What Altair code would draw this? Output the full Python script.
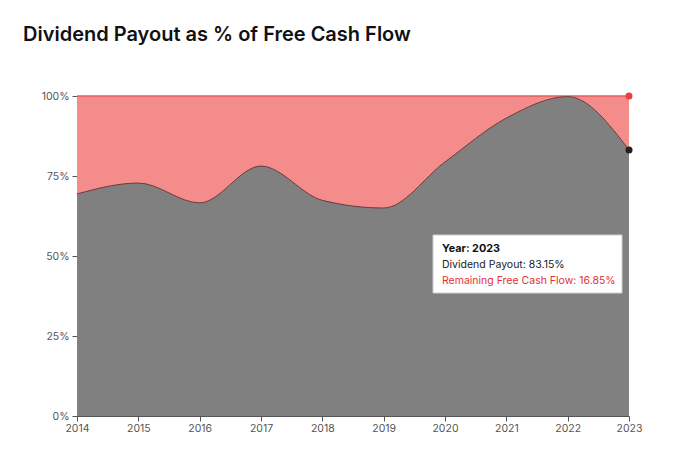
import altair as alt
import pandas as pd

years = [2014, 2015, 2016, 2017, 2018, 2019, 2020, 2021, 2022, 2023]
payout = [69.4, 72.8, 66.6, 78.1, 67.4, 65.0, 79.4, 93.1, 99.8, 83.15]
total = [100] * len(years)

df = pd.DataFrame({"year": years, "payout": payout, "total": total})
last = df[df["year"] == 2023]

x_enc = alt.X("year:Q", scale=alt.Scale(domain=[2014, 2023], nice=False, zero=False),
              axis=alt.Axis(values=years, format="d", title=None, labelPadding=2, labelFlush=False))
y_scale = alt.Scale(domain=[0, 100], nice=False)
y_axis = alt.Axis(values=[0, 25, 50, 75, 100], labelExpr="datum.value + '%'", title=None, labelPadding=3)

base = alt.Chart(df)

red_area = base.mark_area(color="#f48c8c", interpolate="monotone").encode(
    x=x_enc, y=alt.Y("total:Q", scale=y_scale, axis=y_axis), y2=alt.value(320)
)
top_line = base.mark_line(color="#e06060", strokeWidth=1.5).encode(
    x="year:Q", y="total:Q"
)
gray_area = base.mark_area(color="#808080", interpolate="monotone").encode(
    x="year:Q", y="payout:Q"
)
payout_line = base.mark_line(color="#6e3a3a", strokeWidth=1, interpolate="monotone").encode(
    x="year:Q", y="payout:Q"
)
red_pt = alt.Chart(last).mark_circle(color="#e8403e", size=50, opacity=1).encode(
    x="year:Q", y="total:Q"
)
black_pt = alt.Chart(last).mark_circle(color="#222222", size=50, opacity=1).encode(
    x="year:Q", y="payout:Q"
)

tip = pd.DataFrame({"a": [0]})
tip_box = alt.Chart(tip).mark_rect(fill="white", stroke="#d0d0d0", strokeWidth=1).encode(
    x=alt.value(356), x2=alt.value(545), y=alt.value(139), y2=alt.value(197)
)
tip_lines = pd.DataFrame({
    "t": ["Year: 2023", "Dividend Payout: 83.15%", "Remaining Free Cash Flow: 16.85%"],
})
tip_t1 = alt.Chart(tip_lines.iloc[[0]]).mark_text(
    align="left", baseline="alphabetic", font="Inter", fontSize=10.8, fontWeight="bold", color="#111111"
).encode(x=alt.value(365), y=alt.value(156), text="t:N")
tip_t2 = alt.Chart(tip_lines.iloc[[1]]).mark_text(
    align="left", baseline="alphabetic", font="Inter", fontSize=10.5, color="#222222"
).encode(x=alt.value(365), y=alt.value(172), text="t:N")
tip_t3 = alt.Chart(tip_lines.iloc[[2]]).mark_text(
    align="left", baseline="alphabetic", font="Inter", fontSize=10.5, color="#e03131"
).encode(x=alt.value(365), y=alt.value(188), text="t:N")

title_df = pd.DataFrame({"t": ["Dividend Payout as % of Free Cash Flow"]})
title = alt.Chart(title_df).mark_text(
    align="left", baseline="alphabetic", font="Inter", fontSize=20, fontWeight=600, color="#111111"
).encode(x=alt.value(-54), y=alt.value(-55), text="t:N")

chart = alt.layer(
    red_area, top_line, gray_area, payout_line, red_pt, black_pt,
    tip_box, tip_t1, tip_t2, tip_t3, title
).properties(
    width=552, height=320,
    autosize=alt.AutoSizeParams(type="none"),
    padding={"left": 69, "top": 88, "right": 40, "bottom": 38},
    background="white",
).configure_view(stroke=None).configure_axis(
    grid=False, domainColor="#555555", tickColor="#555555", labelColor="#555555",
    labelFont="Inter", labelFontSize=10.5, tickSize=5, domainWidth=1,
)

chart.save("out.html", embed_options={"renderer": "svg", "actions": False})
